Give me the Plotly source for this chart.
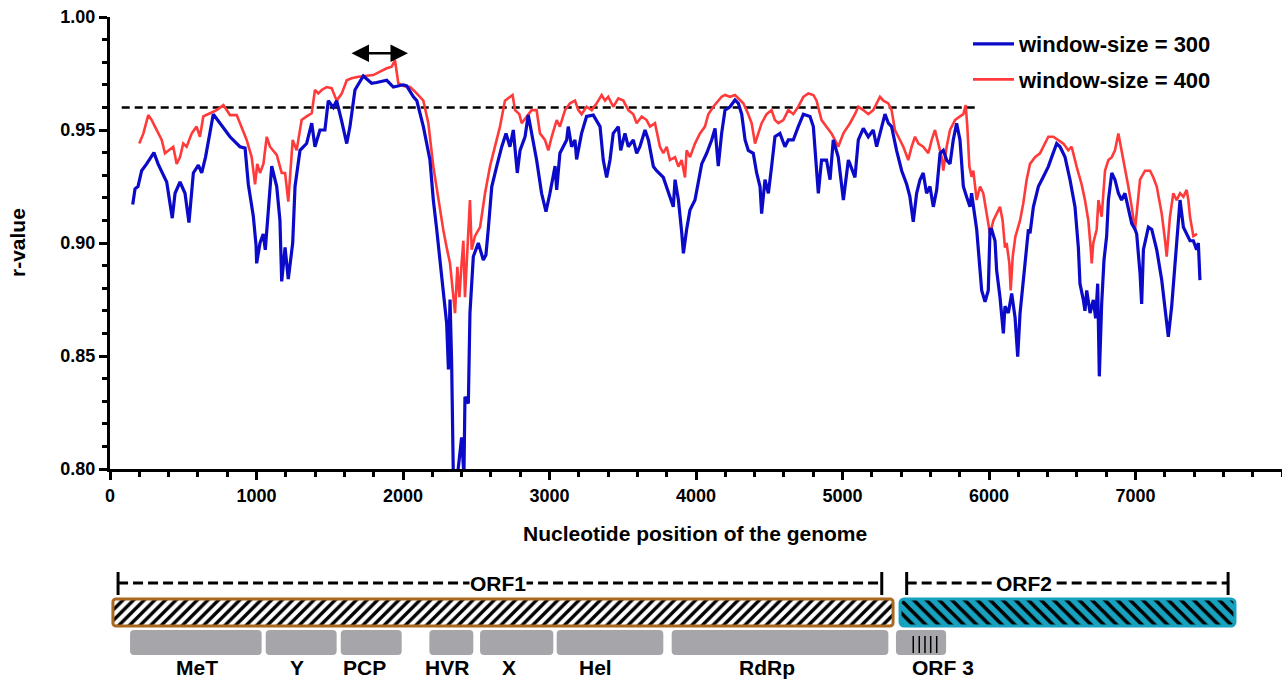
import plotly.graph_objects as go

# ---------------- data ----------------
blue_pos = [155, 171, 191, 216, 250, 300, 328, 353, 387, 425, 444, 478, 512, 539, 569, 603, 626, 652, 705, 751,
            819, 887, 922, 944, 978, 997, 1001, 1024, 1046, 1060, 1080, 1104, 1138, 1160, 1172, 1195, 1217, 1247,
            1263, 1297, 1342, 1377, 1399, 1433, 1467, 1490, 1524, 1547, 1581, 1616, 1638, 1672, 1729, 1786, 1820,
            1889, 1934, 2002, 2025, 2071, 2094, 2139, 2184, 2207, 2230, 2253, 2287, 2298, 2310, 2321, 2332, 2344,
            2360, 2378, 2400, 2416, 2423, 2446, 2457, 2480, 2514, 2548, 2566, 2582, 2606, 2640, 2674, 2703, 2730,
            2753, 2780, 2799, 2833, 2855, 2878, 2912, 2946, 2976, 3003, 3038, 3049, 3071, 3117, 3128, 3151, 3174,
            3185, 3219, 3253, 3299, 3345, 3367, 3390, 3413, 3435, 3470, 3486, 3515, 3538, 3572, 3595, 3617, 3652,
            3675, 3709, 3731, 3777, 3811, 3845, 3857, 3880, 3902, 3914, 3936, 3959, 3993, 4016, 4039, 4073, 4107,
            4130, 4152, 4175, 4198, 4232, 4266, 4289, 4312, 4335, 4357, 4391, 4414, 4437, 4448, 4471, 4494, 4516,
            4539, 4573, 4607, 4630, 4664, 4698, 4733, 4778, 4801, 4835, 4857, 4891, 4915, 4937, 4971, 5006, 5040,
            5051, 5085, 5108, 5142, 5176, 5210, 5233, 5256, 5290, 5313, 5335, 5369, 5404, 5438, 5460, 5483, 5506,
            5529, 5551, 5574, 5597, 5620, 5643, 5666, 5688, 5711, 5734, 5756, 5779, 5802, 5825, 5847, 5870, 5881,
            5916, 5950, 5973, 5995, 6007, 6018, 6041, 6052, 6075, 6098, 6109, 6132, 6155, 6178, 6196, 6212, 6230,
            6246, 6269, 6280, 6303, 6337, 6371, 6405, 6428, 6462, 6485, 6519, 6553, 6587, 6610, 6621, 6644, 6655,
            6667, 6690, 6712, 6728, 6742, 6753, 6769, 6785, 6803, 6815, 6838, 6860, 6883, 6905, 6928, 6951, 6974,
            6997, 7008, 7031, 7042, 7054, 7077, 7088, 7111, 7133, 7145, 7179, 7202, 7224, 7247, 7270, 7292, 7304,
            7327, 7349, 7372, 7395, 7417, 7429, 7440]
blue_r = [0.917, 0.924, 0.925, 0.932, 0.935, 0.940, 0.935, 0.9315, 0.927, 0.911, 0.922, 0.927, 0.922, 0.909, 0.931,
          0.9345, 0.931, 0.938, 0.957, 0.953, 0.947, 0.9426, 0.942, 0.926, 0.912, 0.899, 0.891, 0.900, 0.904, 0.897,
          0.915, 0.934, 0.925, 0.910, 0.883, 0.898, 0.884, 0.900, 0.925, 0.941, 0.944, 0.953, 0.9426, 0.950, 0.950,
          0.963, 0.960, 0.963, 0.954, 0.944, 0.9515, 0.9677, 0.9739, 0.9707, 0.971, 0.972, 0.969, 0.970, 0.9695,
          0.9647, 0.963, 0.9515, 0.9367, 0.919, 0.906, 0.891, 0.872, 0.8645, 0.844, 0.875, 0.847, 0.795, 0.790,
          0.801, 0.814, 0.797, 0.832, 0.829, 0.869, 0.894, 0.900, 0.8925, 0.8947, 0.906, 0.925, 0.934, 0.9426,
          0.9485, 0.9426, 0.950, 0.931, 0.941, 0.947, 0.9566, 0.9485, 0.9367, 0.922, 0.9139, 0.922, 0.934, 0.9235,
          0.9397, 0.9456, 0.9515, 0.9426, 0.9456, 0.937, 0.9485, 0.956, 0.9566, 0.9515, 0.9367, 0.929, 0.9367,
          0.9485, 0.9515, 0.941, 0.9485, 0.9426, 0.9456, 0.9397, 0.9426, 0.950, 0.9456, 0.9338, 0.932, 0.929, 0.922,
          0.916, 0.928, 0.919, 0.905, 0.8954, 0.906, 0.9146, 0.919, 0.928, 0.935, 0.9397, 0.9456, 0.9507, 0.934,
          0.9485, 0.9588, 0.9603, 0.9633, 0.9618, 0.957, 0.9456, 0.941, 0.9397, 0.931, 0.925, 0.913, 0.928, 0.922,
          0.9338, 0.947, 0.9485, 0.9426, 0.9456, 0.9456, 0.9515, 0.957, 0.956, 0.9515, 0.922, 0.9367, 0.9367, 0.928,
          0.9456, 0.938, 0.919, 0.9367, 0.935, 0.929, 0.9456, 0.9507, 0.947, 0.950, 0.9426, 0.9485, 0.957, 0.953,
          0.9515, 0.941, 0.932, 0.926, 0.9205, 0.9094, 0.922, 0.928, 0.931, 0.922, 0.925, 0.916, 0.9235, 0.9397,
          0.941, 0.9367, 0.935, 0.9456, 0.953, 0.9456, 0.925, 0.9205, 0.916, 0.922, 0.906, 0.879, 0.874, 0.879,
          0.906, 0.906, 0.901, 0.888, 0.876, 0.860, 0.872, 0.869, 0.8777, 0.867, 0.8497, 0.869, 0.882, 0.891, 0.906,
          0.9043, 0.916, 0.925, 0.9293, 0.9338, 0.938, 0.944, 0.9426, 0.938, 0.928, 0.916, 0.898, 0.882, 0.8748,
          0.870, 0.879, 0.869, 0.8748, 0.8667, 0.882, 0.841, 0.873, 0.8925, 0.903, 0.919, 0.931, 0.928, 0.922, 0.919,
          0.922, 0.916, 0.9087, 0.906, 0.904, 0.8866, 0.873, 0.897, 0.904, 0.907, 0.906, 0.901, 0.897, 0.8836, 0.872,
          0.8585, 0.872, 0.891, 0.906, 0.919, 0.907, 0.904, 0.901, 0.901, 0.897, 0.900, 0.8836]

red_pos = [200, 228, 261, 285, 307, 330, 353, 375, 398, 432, 455, 478, 500, 523, 558, 591, 614, 637, 683, 728, 774,
           819, 865, 899, 933, 967, 990, 1005, 1024, 1047, 1070, 1092, 1115, 1138, 1172, 1195, 1217, 1229, 1247,
           1274, 1308, 1342, 1377, 1399, 1422, 1445, 1479, 1513, 1547, 1581, 1616, 1649, 1695, 1752, 1797, 1843,
           1889, 1923, 1945, 1968, 2002, 2048, 2082, 2139, 2173, 2207, 2241, 2275, 2298, 2321, 2344, 2355, 2371,
           2385, 2400, 2412, 2423, 2440, 2457, 2469, 2491, 2526, 2560, 2594, 2628, 2662, 2696, 2719, 2748, 2765,
           2794, 2810, 2844, 2878, 2912, 2935, 2969, 2992, 3015, 3049, 3071, 3106, 3140, 3174, 3197, 3219, 3253,
           3288, 3322, 3356, 3379, 3401, 3435, 3470, 3504, 3538, 3572, 3595, 3629, 3663, 3686, 3720, 3754, 3777,
           3800, 3822, 3857, 3880, 3902, 3925, 3936, 3959, 3993, 4027, 4061, 4084, 4118, 4152, 4175, 4198, 4232,
           4266, 4300, 4323, 4357, 4380, 4403, 4425, 4448, 4482, 4516, 4539, 4562, 4596, 4630, 4664, 4698, 4733,
           4767, 4801, 4823, 4857, 4891, 4925, 4948, 4971, 5006, 5040, 5051, 5085, 5108, 5142, 5176, 5210, 5233,
           5256, 5279, 5313, 5335, 5358, 5381, 5415, 5449, 5472, 5495, 5518, 5551, 5586, 5609, 5631, 5654, 5677,
           5688, 5711, 5734, 5768, 5802, 5825, 5841, 5852, 5866, 5881, 5893, 5916, 5939, 5961, 5984, 6007, 6030,
           6052, 6075, 6093, 6109, 6120, 6139, 6148, 6162, 6180, 6212, 6234, 6257, 6280, 6314, 6348, 6371, 6405,
           6439, 6473, 6507, 6541, 6564, 6598, 6632, 6655, 6678, 6694, 6701, 6712, 6735, 6747, 6769, 6792, 6815,
           6838, 6860, 6883, 6905, 6928, 6951, 6974, 6997, 7031, 7065, 7099, 7122, 7145, 7179, 7202, 7213, 7235,
           7258, 7281, 7304, 7327, 7349, 7361, 7372, 7395, 7420]
red_r = [0.944, 0.9485, 0.9566, 0.9544, 0.9515, 0.9485, 0.9456, 0.9397, 0.941, 0.9426, 0.935, 0.938, 0.944, 0.9426,
         0.9485, 0.9515, 0.947, 0.956, 0.9574, 0.9588, 0.961, 0.9566, 0.9566, 0.9515, 0.9456, 0.938, 0.926, 0.935,
         0.931, 0.935, 0.947, 0.9426, 0.941, 0.939, 0.931, 0.931, 0.9183, 0.929, 0.9456, 0.941, 0.9544, 0.956,
         0.9574, 0.9677, 0.9662, 0.9677, 0.969, 0.9685, 0.963, 0.966, 0.972, 0.9729, 0.9736, 0.974, 0.9743, 0.9758,
         0.9773, 0.978, 0.981, 0.9707, 0.9695, 0.969, 0.967, 0.963, 0.953, 0.9338, 0.919, 0.9058, 0.898, 0.891,
         0.876, 0.869, 0.8895, 0.876, 0.891, 0.901, 0.876, 0.895, 0.919, 0.897, 0.903, 0.907, 0.922, 0.934, 0.9426,
         0.9515, 0.963, 0.964, 0.9655, 0.9588, 0.957, 0.953, 0.956, 0.9588, 0.9588, 0.9485, 0.9456, 0.941, 0.947,
         0.9544, 0.9515, 0.9588, 0.9618, 0.963, 0.9588, 0.957, 0.9603, 0.9588, 0.9618, 0.9655, 0.963, 0.9647,
         0.9603, 0.964, 0.963, 0.9588, 0.957, 0.953, 0.956, 0.9544, 0.9515, 0.953, 0.9426, 0.9397, 0.9426, 0.9367,
         0.938, 0.9338, 0.9367, 0.929, 0.941, 0.938, 0.944, 0.9485, 0.9515, 0.957, 0.9603, 0.963, 0.9647, 0.9655,
         0.9647, 0.9655, 0.963, 0.9618, 0.957, 0.953, 0.944, 0.9485, 0.953, 0.957, 0.9588, 0.9544, 0.953, 0.9544,
         0.9588, 0.957, 0.9603, 0.9647, 0.9662, 0.9655, 0.963, 0.9544, 0.9515, 0.9485, 0.9456, 0.9426, 0.9485,
         0.9515, 0.953, 0.957, 0.9603, 0.9588, 0.957, 0.9588, 0.9618, 0.9647, 0.963, 0.9618, 0.9588, 0.950, 0.947,
         0.9426, 0.9367, 0.9426, 0.947, 0.944, 0.9426, 0.9397, 0.9456, 0.950, 0.944, 0.938, 0.932, 0.9426, 0.950,
         0.9544, 0.956, 0.957, 0.961, 0.9515, 0.9338, 0.9293, 0.932, 0.919, 0.925, 0.922, 0.913, 0.904, 0.910,
         0.913, 0.916, 0.910, 0.898, 0.900, 0.891, 0.879, 0.894, 0.9028, 0.910, 0.9176, 0.928, 0.935, 0.938,
         0.9397, 0.9426, 0.947, 0.947, 0.9456, 0.944, 0.941, 0.9426, 0.9338, 0.926, 0.919, 0.910, 0.898, 0.891,
         0.900, 0.906, 0.919, 0.9116, 0.932, 0.9367, 0.938, 0.941, 0.9485, 0.941, 0.9338, 0.925, 0.916, 0.906,
         0.928, 0.932, 0.932, 0.929, 0.925, 0.913, 0.901, 0.894, 0.9116, 0.922, 0.919, 0.922, 0.9205, 0.9235,
         0.919, 0.9116, 0.903, 0.904]

series_names = ["window-size = 300", "window-size = 400"]
threshold_r = 0.96
threshold_span = [80, 5925]
arrow_span = [1638, 2034]
arrow_r = 0.984

x_tick_vals = [0, 1000, 2000, 3000, 4000, 5000, 6000, 7000]
y_tick_vals = [0.80, 0.85, 0.90, 0.95, 1.00]

# genome map (positions in nucleotides on the same x scale)
orf_names = ["ORF1", "ORF2"]
orf_box_start = [20, 5393]
orf_box_end = [5345, 7679]
orf_bracket_start = [55, 5438]
orf_bracket_end = [5268, 7632]
orf_label_pos = [2648, 6239]

domain_names = ["MeT", "Y", "PCP", "HVR", "X", "Hel", "RdRp", "ORF 3"]
domain_start = [137, 1063, 1575, 2180, 2526, 3049, 3834, 5365]
domain_end = [1035, 1547, 1991, 2480, 3026, 3777, 5313, 5707]
domain_label_pos = [597, 1274, 1734, 2298, 2724, 3311, 4483, 5683]
orf3_marks = [5483, 5524, 5563, 5602, 5643]

# ---------------- style / layout ----------------
W, H = 1282, 680
M_L, M_R, M_T, M_B = 110, 0, 17, 12
BOTTOM_PX = H - M_B
PH = BOTTOM_PX - M_T
Y_BOTTOM_PX = 469
MAP_TOP_PX = 560


def py(px):  # pixel row -> paper fraction
    return (BOTTOM_PX - px) / PH


def pxx(px):  # pixel column -> paper fraction
    return (px - M_L) / (W - M_L - M_R)


FONT = "Liberation Sans, Arial, sans-serif"
BLUE = "#0A0AC8"
RED = "#FF3A3A"
BROWN = "#A9691E"
TEAL = "#17A2C0"
GRAY = "#A6A6AA"

ROW_BRACKET, CAP_TOP, CAP_BOT = 583, 572, 595
ROW_BOX, BOX_H = 612.5, 27
ROW_DOM, DOM_H = 642.5, 25
ROW_LABEL = 667
MARK_TOP, MARK_BOT = 636, 653

fig = go.Figure()

fig.add_trace(go.Scatter(x=threshold_span, y=[threshold_r, threshold_r], mode="lines",
                         line=dict(color="black", width=2.5, dash="8px,5px"),
                         showlegend=False, hoverinfo="skip"))
fig.add_trace(go.Scatter(x=red_pos, y=red_r, mode="lines", name=series_names[1],
                         line=dict(color=RED, width=2.6), legendrank=2, legendgroup="b"))
fig.add_trace(go.Scatter(x=blue_pos, y=blue_r, mode="lines", name=series_names[0],
                         line=dict(color=BLUE, width=3.2), legendrank=1, legendgroup="a"))

# ---- genome map on second y axis ----
fig.add_trace(go.Bar(orientation="h", yaxis="y2", y=[ROW_BOX], width=[BOX_H],
                     base=[orf_box_start[0]], x=[orf_box_end[0] - orf_box_start[0]],
                     marker=dict(color="white", cornerradius=3,
                                 line=dict(color=BROWN, width=3),
                                 pattern=dict(shape="/", fgcolor="black", bgcolor="white",
                                              size=7.5, solidity=0.45, fillmode="replace")),
                     showlegend=False, hoverinfo="skip"))
fig.add_trace(go.Bar(orientation="h", yaxis="y2", y=[ROW_BOX], width=[BOX_H],
                     base=[orf_box_start[1]], x=[orf_box_end[1] - orf_box_start[1]],
                     marker=dict(color=TEAL, cornerradius=4,
                                 line=dict(color=TEAL, width=3),
                                 pattern=dict(shape="\\", fgcolor="black", bgcolor=TEAL,
                                              size=9, solidity=0.4, fillmode="replace")),
                     showlegend=False, hoverinfo="skip"))
fig.add_trace(go.Bar(orientation="h", yaxis="y2", y=[ROW_DOM] * len(domain_start),
                     width=[DOM_H] * len(domain_start), base=domain_start,
                     x=[e - s for s, e in zip(domain_start, domain_end)],
                     marker=dict(color=GRAY, cornerradius=4, line=dict(width=0)),
                     showlegend=False, hoverinfo="skip"))
mx, my = [], []
for m in orf3_marks:
    mx += [m, m, None]
    my += [MARK_TOP, MARK_BOT, None]
fig.add_trace(go.Scatter(x=mx, y=my, yaxis="y2", mode="lines",
                         line=dict(color="black", width=1.5), showlegend=False, hoverinfo="skip"))
for s, e in zip(orf_bracket_start, orf_bracket_end):
    fig.add_trace(go.Scatter(x=[s, e], y=[ROW_BRACKET, ROW_BRACKET], yaxis="y2", mode="lines",
                             line=dict(color="black", width=3, dash="10px,5px"),
                             showlegend=False, hoverinfo="skip"))
    fig.add_trace(go.Scatter(x=[s, s, None, e, e], y=[CAP_TOP, CAP_BOT, None, CAP_TOP, CAP_BOT],
                             yaxis="y2", mode="lines", line=dict(color="black", width=3),
                             showlegend=False, hoverinfo="skip"))

annotations = []
for name, pos in zip(orf_names, orf_label_pos):
    annotations.append(dict(x=pos, y=ROW_BRACKET, xref="x", yref="y2", text=name, showarrow=False,
                            bgcolor="white", borderpad=0, xanchor="center", yanchor="middle",
                            font=dict(family=FONT, size=21, color="black", weight="bold")))
for name, pos in zip(domain_names, domain_label_pos):
    annotations.append(dict(x=pos, y=ROW_LABEL, xref="x", yref="y2", text=name, showarrow=False,
                            xanchor="center", yanchor="middle",
                            font=dict(family=FONT, size=21, color="black", weight="bold")))
annotations.append(dict(x=arrow_span[1], y=arrow_r, ax=arrow_span[0], ay=arrow_r,
                        xref="x", yref="y", axref="x", ayref="y", text="", showarrow=True,
                        arrowside="end+start", arrowhead=2, startarrowhead=2,
                        arrowsize=1.4, startarrowsize=1.4, arrowwidth=2.5, arrowcolor="black"))
annotations.append(dict(x=pxx(695), y=py(533), xref="paper", yref="paper",
                        xanchor="center", yanchor="middle",
                        text="Nucleotide position of the genome", showarrow=False,
                        font=dict(family=FONT, size=21, color="black", weight="bold")))
annotations.append(dict(x=pxx(18), y=py(243), xref="paper", yref="paper", text="r-value",
                        xanchor="center", yanchor="middle",
                        textangle=-90, showarrow=False,
                        font=dict(family=FONT, size=21, color="black", weight="bold")))

fig.update_layout(
    width=W, height=H,
    margin=dict(l=M_L, r=M_R, t=M_T, b=M_B),
    paper_bgcolor="white", plot_bgcolor="white",
    font=dict(family=FONT, size=18, color="black", weight="bold"),
    barmode="overlay",
    showlegend=True,
    legend=dict(x=pxx(968), y=py(23), xanchor="left", yanchor="top", itemwidth=41,
                bgcolor="rgba(0,0,0,0)", traceorder="grouped", tracegroupgap=4,
                font=dict(family=FONT, size=22, color="black", weight="bold")),
    xaxis=dict(range=[0, 8000], tickvals=x_tick_vals, ticktext=[str(v) for v in x_tick_vals],
               showline=True, linewidth=3, linecolor="black", ticks="outside", ticklen=8,
               tickwidth=3, tickcolor="black", showgrid=False, zeroline=False,
               tickfont=dict(family=FONT, size=18, color="black", weight="bold"),
               minor=dict(tickmode="linear", tick0=0, dtick=200, ticks="outside", ticklen=5,
                          tickwidth=2.5, tickcolor="black"),
               anchor="y"),
    yaxis=dict(domain=[py(Y_BOTTOM_PX), 1], range=[0.80, 1.00], tickvals=y_tick_vals,
               tickformat=".2f", showline=True, linewidth=3, linecolor="black",
               ticks="outside", ticklen=8, tickwidth=3, tickcolor="black",
               showgrid=False, zeroline=False,
               tickfont=dict(family=FONT, size=18, color="black", weight="bold"),
               minor=dict(tickmode="linear", tick0=0.8, dtick=0.01, ticks="outside", ticklen=5,
                          tickwidth=2.5, tickcolor="black"),
               anchor="x"),
    yaxis2=dict(domain=[0, py(MAP_TOP_PX)], range=[BOTTOM_PX, MAP_TOP_PX], visible=False,
                showgrid=False, zeroline=False, anchor="x"),
    annotations=annotations,
)

fig.write_html("out.html")
